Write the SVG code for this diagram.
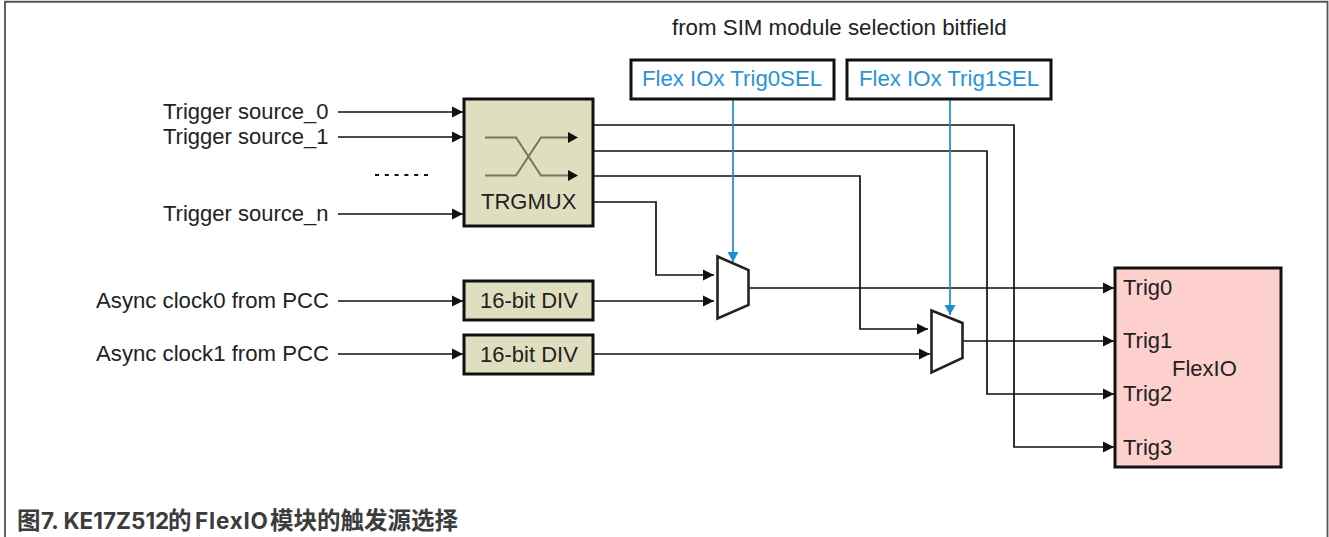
<svg xmlns="http://www.w3.org/2000/svg" width="1329" height="537" viewBox="0 0 1329 537">
<style>
text{font-family:"Liberation Sans",Arial,sans-serif;font-size:22px;fill:#222}
.box{stroke:#111;stroke-width:3}
.olive{fill:#dfdfc0}
.w{fill:none;stroke:#111;stroke-width:1.7}
.b{fill:none;stroke:#1b8fd0;stroke-width:1.7}
.sel{fill:#fff;stroke:#111;stroke-width:3}
text.blue{fill:#2a93d5;font-size:22.200px}
text.wide{font-size:22.200px}
.mux{fill:#fff;stroke:#222;stroke-width:2.6;stroke-linejoin:miter}
text.cap{font-family:Inter,"Noto Sans CJK SC",sans-serif;font-size:22.500px;font-weight:700;fill:#3c3c3c}
.capc{font-family:"Noto Sans CJK SC",sans-serif;font-size:23.500px;font-weight:700;fill:#3c3c3c}
</style>
<defs>
<marker id="a" markerUnits="userSpaceOnUse" markerWidth="12" markerHeight="12" refX="11" refY="6" orient="auto"><path d="M0 0.500L11 6L0 11.500z" fill="#111"/></marker>
<marker id="ab" markerUnits="userSpaceOnUse" markerWidth="12" markerHeight="12" refX="10" refY="6" orient="auto"><path d="M0 0.500L10 6L0 11.500z" fill="#1b8fd0"/></marker>
</defs>
<rect width="1329" height="537" fill="#fff"/>
<path d="M5 537V1.750H1327.500V537" fill="none" stroke="#555" stroke-width="1.800"/>
<g id="connectors">
<path class="w" marker-end="url(#a)" d="M338 112H463"/>
<path class="w" marker-end="url(#a)" d="M338 137H463"/>
<path class="w" marker-end="url(#a)" d="M338 214H463"/>
<path class="w" marker-end="url(#a)" d="M338 301H463"/>
<path class="w" marker-end="url(#a)" d="M338 354H463"/>
<path d="M375 175H428" fill="none" stroke="#111" stroke-width="1.800" stroke-dasharray="4 5.800"/>
<path class="w" marker-end="url(#a)" d="M593 125H1014V447H1114"/>
<path class="w" marker-end="url(#a)" d="M593 151H987V394H1114"/>
<path class="w" marker-end="url(#a)" d="M593 176H860V329H928"/>
<path class="w" marker-end="url(#a)" d="M593 202H656V275H714"/>
<path class="w" marker-end="url(#a)" d="M593 301H714"/>
<path class="w" marker-end="url(#a)" d="M593 354H930"/>
<path class="w" marker-end="url(#a)" d="M749 288H1114"/>
<path class="w" marker-end="url(#a)" d="M963 341H1114"/>
<path class="b" marker-end="url(#ab)" d="M733 100V262"/>
<path class="b" marker-end="url(#ab)" d="M950 100V315"/>
</g>
<g id="trgmux">
<rect class="box olive" x="464" y="99" width="129" height="127"/>
<path d="M485 137.500H516L541 175.500H568M485 175.500H516L541 137.500H568" fill="none" stroke="#777760" stroke-width="2"/>
<path d="M568 132L578 137.500L568 143zM568 170L578 175.500L568 181z" fill="#111"/>
<text x="481" y="209">TRGMUX</text>
</g>
<g id="div0"><rect class="box olive" x="464" y="281" width="129" height="39"/><text x="480" y="308">16-bit DIV</text></g>
<g id="div1"><rect class="box olive" x="464" y="335" width="129" height="39"/><text x="480" y="362">16-bit DIV</text></g>
<g id="mux0"><path class="mux" d="M717.500 256.500L748.500 270V305L717.500 318.500z"/></g>
<g id="mux1"><path class="mux" d="M931.500 310.500L962.500 323V358L931.500 372.500z"/></g>
<g id="flexio">
<rect class="box" fill="#fdd0ce" x="1115" y="268" width="166" height="199"/>
<text x="1123" y="295">Trig0</text>
<text x="1123" y="348">Trig1</text>
<text x="1172" y="376">FlexIO</text>
<text x="1123" y="401">Trig2</text>
<text x="1123" y="455">Trig3</text>
</g>
<g id="sel0"><rect class="sel" x="631" y="60" width="203" height="39"/><text class="blue" x="642" y="86">Flex IOx Trig0SEL</text></g>
<g id="sel1"><rect class="sel" x="847" y="60" width="204" height="39"/><text class="blue" x="859" y="86">Flex IOx Trig1SEL</text></g>
<g id="labels">
<text x="672" y="35" style="font-size:22.300px">from SIM module selection bitfield</text>
<text x="163" y="119">Trigger source_0</text>
<text x="163" y="144">Trigger source_1</text>
<text x="163" y="221">Trigger source_n</text>
<text class="wide" x="96" y="308">Async clock0 from PCC</text>
<text class="wide" x="96" y="361">Async clock1 from PCC</text>
<text class="cap" x="17" y="529"><tspan class="capc">图</tspan><tspan x="41">7. KE17Z512</tspan><tspan class="capc" x="168">的</tspan><tspan x="195" letter-spacing="0.8">FlexIO</tspan><tspan class="capc" x="270">模块的触发源选择</tspan></text>
</g>
</svg>
